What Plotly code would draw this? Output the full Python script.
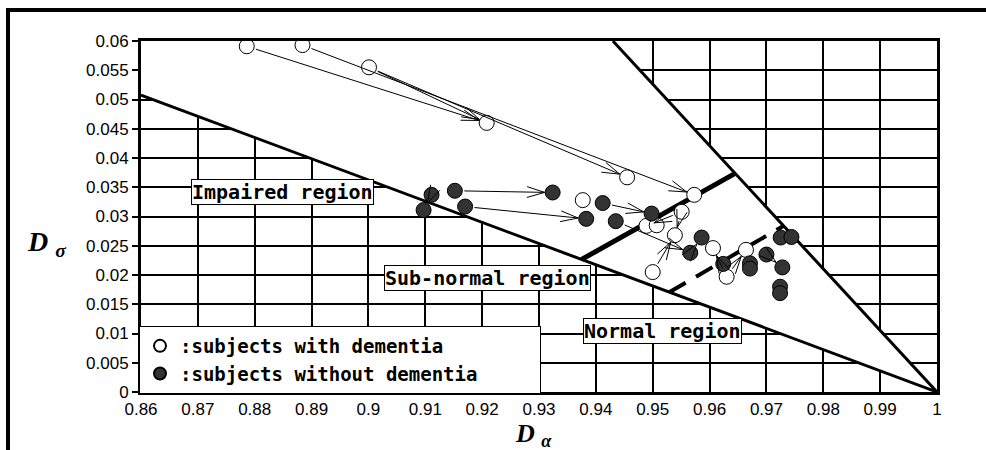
import math
import plotly.graph_objects as go

# ---------------- data ----------------
open_x = [0.8786, 0.8884, 0.9001, 0.9208, 0.9455, 0.9573, 0.9377, 0.9551, 0.9489, 0.9507,
          0.9539, 0.9500, 0.9606, 0.9630, 0.9664]
open_y = [0.0591, 0.0593, 0.0555, 0.0460, 0.0367, 0.0337, 0.0328, 0.0308, 0.0284, 0.0285,
          0.0268, 0.0205, 0.0246, 0.0197, 0.0243]

filled_x = [0.9152, 0.9324, 0.9170, 0.9383, 0.9412, 0.9435, 0.9111, 0.9097, 0.9498, 0.9566,
            0.9586, 0.9624, 0.9671, 0.9671, 0.9700, 0.9728, 0.9724, 0.9724, 0.9725, 0.9744]
filled_y = [0.0344, 0.0341, 0.0317, 0.0296, 0.0323, 0.0292, 0.0337, 0.0311, 0.0305, 0.0238,
            0.0264, 0.0219, 0.0220, 0.0211, 0.0235, 0.0213, 0.0180, 0.0169, 0.0264, 0.0265]

# arrows: start -> end
arrow_x0 = [0.8786, 0.9001, 0.8884, 0.9001, 0.9152, 0.9170, 0.9111, 0.9412, 0.9551, 0.9551,
            0.9500, 0.9435, 0.9566, 0.9630, 0.9630, 0.9700]
arrow_y0 = [0.0591, 0.0555, 0.0593, 0.0555, 0.0344, 0.0317, 0.0337, 0.0323, 0.0308, 0.0308,
            0.0205, 0.0292, 0.0238, 0.0197, 0.0197, 0.0235]
arrow_x1 = [0.9208, 0.9208, 0.9573, 0.9455, 0.9324, 0.9383, 0.9097, 0.9498, 0.9489, 0.9539,
            0.9539, 0.9566, 0.9586, 0.9664, 0.9606, 0.9728]
arrow_y1 = [0.0460, 0.0460, 0.0337, 0.0367, 0.0341, 0.0296, 0.0311, 0.0305, 0.0284, 0.0268,
            0.0268, 0.0238, 0.0264, 0.0243, 0.0246, 0.0213]

# region boundary lines
lower_x = [0.86, 1.0]
lower_y = [0.05075, 0.0]
steep_x = [0.9430, 1.0]
steep_y = [0.0600, 0.0]
thick_x = [0.9375, 0.9645]
thick_y = [0.02266, 0.03737]
dash_x = [0.9529, 0.9730]
dash_y = [0.01706, 0.02838]
# blank (grid-free) wedge
wedge_x = [0.86, 1.0, 0.9430, 0.86, 0.86]
wedge_y = [0.05075, 0.0, 0.0600, 0.0600, 0.05075]

x_range = [0.86, 1.0]
y_range = [0.0, 0.06]
x_ticks = [0.86, 0.87, 0.88, 0.89, 0.90, 0.91, 0.92, 0.93, 0.94, 0.95, 0.96, 0.97, 0.98, 0.99, 1.0]
x_labels = ["0.86", "0.87", "0.88", "0.89", "0.9", "0.91", "0.92", "0.93", "0.94", "0.95",
            "0.96", "0.97", "0.98", "0.99", "1"]
y_ticks = [0, 0.005, 0.01, 0.015, 0.02, 0.025, 0.03, 0.035, 0.04, 0.045, 0.05, 0.055, 0.06]
y_labels = ["0", "0.005", "0.01", "0.015", "0.02", "0.025", "0.03", "0.035", "0.04", "0.045",
            "0.05", "0.055", "0.06"]

region_labels = ["Impaired region", "Sub-normal region", "Normal region"]
region_x = [0.88489, 0.92094, 0.9518]
region_y = [0.03419, 0.01957, 0.01051]

legend_names = [":subjects with dementia", ":subjects without dementia"]

# ---------------- figure ----------------
W, H = 986, 450
L, R, T, B = 141, 49, 41, 58
PW, PH = W - L - R, H - T - B
SX = PW / (x_range[1] - x_range[0])   # px per x unit
SY = PH / (y_range[1] - y_range[0])   # px per y unit


def px2paper_x(px):
    return (px - L) / PW


def px2paper_y(py):
    return (H - B - py) / PH


fig = go.Figure()

fig.add_trace(go.Scatter(x=wedge_x, y=wedge_y, fill="toself", fillcolor="white",
                         mode="none", showlegend=False, hoverinfo="skip"))
fig.add_trace(go.Scatter(x=lower_x, y=lower_y, mode="lines",
                         line=dict(color="black", width=3), showlegend=False))
fig.add_trace(go.Scatter(x=steep_x, y=steep_y, mode="lines",
                         line=dict(color="black", width=3), showlegend=False, cliponaxis=False))
fig.add_trace(go.Scatter(x=thick_x, y=thick_y, mode="lines",
                         line=dict(color="black", width=5), showlegend=False))
fig.add_trace(go.Scatter(x=dash_x, y=dash_y, mode="lines",
                         line=dict(color="black", width=4, dash="19px,12px"), showlegend=False))

pad = "\u00a0" * 5
fig.add_trace(go.Scatter(x=open_x, y=open_y, mode="markers",
                         name="<b>" + legend_names[0] + "</b>",
                         marker=dict(size=15, color="white", line=dict(color="black", width=1))))
fig.add_trace(go.Scatter(x=filled_x, y=filled_y, mode="markers",
                         name="<b>" + legend_names[1] + "</b>" + pad,
                         marker=dict(size=15, color="#333333", line=dict(color="black", width=1))))

annotations = []
STANDOFF = 8
HEAD_LEN = 20
HEAD_ANG = math.radians(17)
for x0, y0, x1, y1 in zip(arrow_x0, arrow_y0, arrow_x1, arrow_y1):
    dxp = (x1 - x0) * SX
    dyp = -(y1 - y0) * SY          # screen y downwards
    ln = math.hypot(dxp, dyp)
    ux, uy = dxp / ln, dyp / ln
    tip_x = x1 - STANDOFF * ux / SX
    tip_y = y1 + STANDOFF * uy / SY
    # shaft
    annotations.append(dict(x=tip_x, y=tip_y, ax=x0, ay=y0, xref="x", yref="y",
                            axref="x", ayref="y", text="", showarrow=True, arrowhead=0,
                            arrowwidth=1, arrowcolor="black", startstandoff=8))
    # two barbs of an open arrowhead
    for s in (1, -1):
        c, sn = math.cos(HEAD_ANG), math.sin(s * HEAD_ANG)
        bx = -HEAD_LEN * (ux * c - uy * sn)
        by = -HEAD_LEN * (uy * c + ux * sn)
        annotations.append(dict(x=tip_x, y=tip_y, ax=bx, ay=by, xref="x", yref="y",
                                text="", showarrow=True, arrowhead=0, arrowwidth=1,
                                arrowcolor="black"))

for t, x, y in zip(region_labels, region_x, region_y):
    annotations.append(dict(x=x, y=y, xref="x", yref="y", text="<b>" + t + "</b>", showarrow=False,
                            font=dict(family="DejaVu Sans Mono", size=20, color="black"),
                            bgcolor="white", bordercolor="black", borderwidth=1, borderpad=0))

annotations.append(dict(x=px2paper_x(25), y=px2paper_y(224), xref="paper", yref="paper",
                        xanchor="left", yanchor="top",
                        text="<b><i>D</i></b> <sub><b><i>σ</i></b></sub>", showarrow=False,
                        font=dict(family="Liberation Serif", size=28, color="black")))
annotations.append(dict(x=px2paper_x(513), y=px2paper_y(417), xref="paper", yref="paper",
                        xanchor="left", yanchor="top",
                        text="<b><i>D</i></b> <sub><b><i>α</i></b></sub>", showarrow=False,
                        font=dict(family="Liberation Serif", size=26, color="black")))

shapes = [
    dict(type="line", xref="paper", yref="paper", x0=px2paper_x(8), x1=px2paper_x(990),
         y0=px2paper_y(10), y1=px2paper_y(10), line=dict(color="black", width=4)),
    dict(type="line", xref="paper", yref="paper", x0=px2paper_x(8), x1=px2paper_x(8),
         y0=px2paper_y(8), y1=px2paper_y(455), line=dict(color="black", width=4)),
]

fig.update_layout(
    width=W, height=H,
    margin=dict(l=L, r=R, t=T, b=B),
    paper_bgcolor="white", plot_bgcolor="white",
    font=dict(family="Liberation Sans", size=17, color="black"),
    annotations=annotations, shapes=shapes,
    legend=dict(x=px2paper_x(139), y=px2paper_y(326), xanchor="left", yanchor="top",
                bgcolor="white", bordercolor="black", borderwidth=1,
                font=dict(family="DejaVu Sans Mono", size=19, color="black"),
                tracegroupgap=0, itemsizing="constant"),
    showlegend=True,
)
fig.update_xaxes(range=x_range, tickvals=x_ticks, ticktext=x_labels,
                 showgrid=True, gridcolor="black", gridwidth=1.5,
                 showline=True, linecolor="black", linewidth=3, mirror=True,
                 ticks="", zeroline=False, tickfont=dict(size=17))
fig.update_yaxes(range=y_range, tickvals=y_ticks, ticktext=y_labels,
                 showgrid=True, gridcolor="black", gridwidth=1.5,
                 showline=True, linecolor="black", linewidth=3, mirror=True,
                 ticks="outside", ticklen=6, tickwidth=1.5, tickcolor="black",
                 zeroline=False, tickfont=dict(size=17))

fig.write_html("out.html")
